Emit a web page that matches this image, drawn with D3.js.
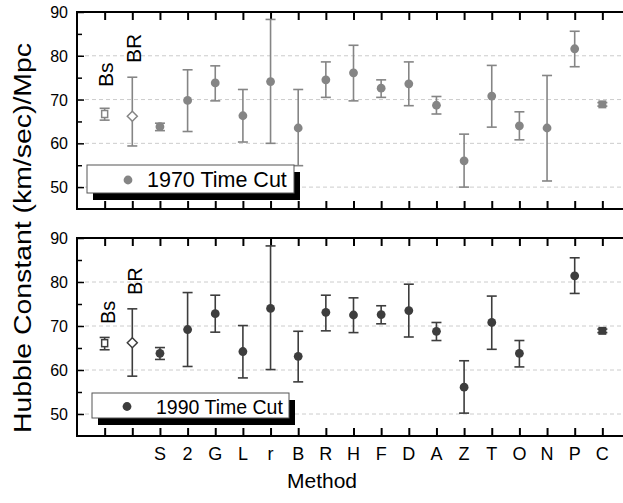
<!DOCTYPE html>
<html><head><meta charset="utf-8">
<script src="https://cdn.jsdelivr.net/npm/d3@7"></script>
<style>body{margin:0;background:#fff;} text{font-family:Arial,"Liberation Sans",sans-serif;}</style>
</head><body><svg id="c" width="623" height="503"></svg>
<script>
const categories = ["Bs","BR","S","2","G","L","r","B","R","H","F","D","A","Z","T","O","N","P","C"];
const markerShapes = ["square-open","diamond","circle","circle","circle","circle","circle","circle","circle","circle","circle","circle","circle","circle","circle","circle","circle","circle","square"];
const cut1970 = [66.7,66.2,63.8,69.8,73.8,66.3,74.1,63.5,74.5,76.1,72.6,73.6,68.7,56.0,70.8,64.0,63.5,81.6,68.9];
const cut1970Low = [65.3,59.4,62.9,62.7,69.7,60.3,60.0,54.9,70.5,69.7,70.5,68.6,66.7,50.0,63.7,60.8,51.4,77.5,68.5];
const cut1970High = [68.0,75.1,64.6,76.8,77.7,72.3,88.3,72.3,78.6,82.4,74.5,78.6,70.7,62.1,77.8,67.2,75.5,85.6,69.3];
const cut1990 = [66.1,66.2,63.8,69.2,72.8,64.2,74.0,63.1,73.1,72.5,72.6,73.5,68.8,56.1,70.8,63.8,null,81.4,68.9];
const cut1990Low = [64.6,58.6,62.4,60.8,68.6,58.2,60.1,57.3,68.9,68.5,70.5,67.5,66.7,50.2,64.7,60.7,null,77.4,68.5];
const cut1990High = [67.4,73.9,65.1,77.6,77.0,70.1,88.2,68.8,77.0,76.4,74.6,79.5,70.8,62.1,76.8,66.7,null,85.5,69.3];
const yTicks = [50,60,70,80,90];
const yMinorTicks = [55,65,75,85];
const gridValues = [50,60,70,80];

const svg = d3.select("#c");
const x = d3.scaleLinear().domain([0, 20]).range([77, 630]);

const panels = [
  {top:12, bottom:209, vals:cut1970, lo:cut1970Low, hi:cut1970High, color:"#858585", label:"1970 Time Cut",
   legend:{x:87,y:165,w:207,h:28, cx:128, tx:147, fs:21.5}, bs:[113,87], br:[141,63], lfs:21},
  {top:238, bottom:436, vals:cut1990, lo:cut1990Low, hi:cut1990High, color:"#3d3d3d", label:"1990 Time Cut",
   legend:{x:92,y:393,w:197,h:25, cx:127, tx:156, fs:19.5}, bs:[115,324], br:[142,295], lfs:20}
];

panels.forEach((p, pi) => {
  const y = d3.scaleLinear().domain([45, 90]).range([p.bottom, p.top]);
  const g = svg.append("g");
  g.selectAll(".grid").data(gridValues).join("line")
    .attr("x1", 78).attr("x2", 623).attr("y1", d => y(d)).attr("y2", d => y(d))
    .attr("stroke", "#cccccc").attr("stroke-width", 1).attr("stroke-dasharray", "4,3");
  const ya = d3.axisRight(y).tickValues(yTicks).tickSize(7).tickFormat("");
  g.append("g").attr("transform", `translate(${x(0)},0)`).call(ya)
    .call(s => s.select(".domain").remove())
    .call(s => s.selectAll("line").attr("stroke", "#000").attr("stroke-width", 1.5));
  g.append("g").attr("transform", `translate(${x(0)},0)`).call(d3.axisRight(y).tickValues(yMinorTicks).tickSize(5).tickFormat(""))
    .call(s => s.select(".domain").remove())
    .call(s => s.selectAll("line").attr("stroke", "#000").attr("stroke-width", 1.5));
  g.selectAll(".ylab").data(yTicks).join("text")
    .attr("x", 68).attr("y", d => y(d) + 6).attr("text-anchor", "end")
    .attr("font-size", 16).attr("fill", "#000").text(d => d);
  const xt = d3.range(1, 20);
  g.append("g").attr("transform", `translate(0,${p.top})`).call(d3.axisBottom(x).tickValues(xt).tickSize(8).tickFormat(""))
    .call(s => s.select(".domain").remove())
    .call(s => s.selectAll("line").attr("stroke", "#000").attr("stroke-width", 2));
  g.append("g").attr("transform", `translate(0,${p.bottom})`).call(d3.axisTop(x).tickValues(xt).tickSize(8).tickFormat(""))
    .call(s => s.select(".domain").remove())
    .call(s => s.selectAll("line").attr("stroke", "#000").attr("stroke-width", 2));
  g.append("line").attr("x1", x(0)).attr("x2", 630).attr("y1", p.top).attr("y2", p.top).attr("stroke", "#000").attr("stroke-width", 2);
  g.append("line").attr("x1", x(0)).attr("x2", 630).attr("y1", p.bottom).attr("y2", p.bottom).attr("stroke", "#000").attr("stroke-width", 2);
  g.append("line").attr("x1", x(0)).attr("x2", x(0)).attr("y1", p.top - 1).attr("y2", p.bottom + 1).attr("stroke", "#000").attr("stroke-width", 2);

  const data = categories.map((c, i) => ({c, i: i + 1, v: p.vals[i], lo: p.lo[i], hi: p.hi[i], shape: markerShapes[i]}))
    .filter(d => d.v !== null);
  const eb = g.append("g").attr("stroke", p.color).attr("stroke-width", 1.6).attr("fill", "none");
  data.forEach(d => {
    eb.append("line").attr("x1", x(d.i)).attr("x2", x(d.i)).attr("y1", y(d.hi)).attr("y2", y(d.lo));
    eb.append("line").attr("x1", x(d.i) - 5).attr("x2", x(d.i) + 5).attr("y1", y(d.hi)).attr("y2", y(d.hi));
    eb.append("line").attr("x1", x(d.i) - 5).attr("x2", x(d.i) + 5).attr("y1", y(d.lo)).attr("y2", y(d.lo));
  });
  data.forEach(d => {
    const cx = x(d.i), cy = y(d.v);
    if (d.shape === "circle") {
      g.append("circle").attr("cx", cx).attr("cy", cy).attr("r", 4.4).attr("fill", p.color);
    } else if (d.shape === "square") {
      g.append("rect").attr("x", cx - 4).attr("y", cy - 4).attr("width", 8).attr("height", 8).attr("fill", p.color);
    } else if (d.shape === "square-open") {
      g.append("rect").attr("x", cx - 3).attr("y", cy - 3.5).attr("width", 6).attr("height", 7)
        .attr("fill", "#fff").attr("stroke", p.color).attr("stroke-width", 1.5);
    } else if (d.shape === "diamond") {
      g.append("path").attr("d", `M${cx},${cy-5}L${cx+5},${cy}L${cx},${cy+5}L${cx-5},${cy}Z`)
        .attr("fill", "#fff").attr("stroke", p.color).attr("stroke-width", 1.5);
    }
  });
  g.append("text").attr("transform", `translate(${p.bs[0]},${p.bs[1]}) rotate(-90)`).attr("font-size", p.lfs).attr("fill", "#000").text(categories[0]);
  g.append("text").attr("transform", `translate(${p.br[0]},${p.br[1]}) rotate(-90)`).attr("font-size", p.lfs).attr("fill", "#000").text(categories[1]);
  const L = p.legend;
  g.append("rect").attr("x", L.x + 6).attr("y", L.y + 7).attr("width", L.w).attr("height", L.h).attr("fill", "#000");
  g.append("rect").attr("x", L.x).attr("y", L.y).attr("width", L.w).attr("height", L.h).attr("fill", "#fff").attr("stroke", "#555").attr("stroke-width", 1);
  g.append("circle").attr("cx", L.cx).attr("cy", L.y + L.h / 2 + 1).attr("r", 4.4).attr("fill", p.color);
  g.append("text").attr("x", L.tx).attr("y", L.y + L.h / 2 + 8).attr("font-size", L.fs).attr("fill", "#000").text(p.label);
});

svg.selectAll(".xlab").data(categories.slice(2)).join("text")
  .attr("x", (d, i) => x(i + 3)).attr("y", 460).attr("text-anchor", "middle")
  .attr("font-size", 18).attr("fill", "#000").text(d => d);
svg.append("text").attr("x", 322).attr("y", 488).attr("text-anchor", "middle").attr("font-size", 21).attr("fill", "#000").text("Method");
svg.append("text").attr("transform", "translate(31,433) rotate(-90)").attr("font-size", 23)
  .attr("textLength", 390).attr("lengthAdjust", "spacingAndGlyphs").attr("fill", "#000").text("Hubble Constant (km/sec)/Mpc");
</script></body></html>
